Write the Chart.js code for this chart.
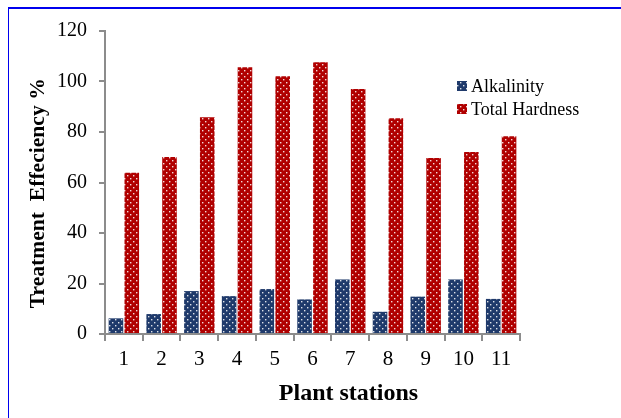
<!DOCTYPE html>
<html>
<head>
<meta charset="utf-8">
<script src="https://cdn.jsdelivr.net/npm/chart.js@4.4.1/dist/chart.umd.min.js"></script>
<style>
  html, body { margin: 0; padding: 0; background: #fff; overflow: hidden; }
  #wrap { position: relative; width: 621px; height: 418px; }
  #frame { position: absolute; left: 8px; top: 7px; width: 700px; height: 500px;
           border-left: 1px solid #0000ee; border-top: 2px solid #0000ee; }
  canvas { position: absolute; left: 0; top: 0; }
</style>
</head>
<body>
<div id="wrap">
  <div id="frame"></div>
  <canvas id="chart" width="621" height="418"></canvas>
</div>
<script>
const stations = ['1', '2', '3', '4', '5', '6', '7', '8', '9', '10', '11'];
const alkalinity = [6.2, 7.9, 17.0, 15.0, 17.8, 13.7, 21.6, 8.8, 14.8, 21.6, 13.9];
const totalHardness = [63.9, 70.1, 85.8, 105.6, 102.1, 107.6, 97.0, 85.4, 69.7, 72.1, 78.3];
const yTicks = [0, 20, 40, 60, 80, 100, 120];

// dotted fill like the office "small confetti" pattern
function dotted(base) {
  const tile = document.createElement('canvas');
  tile.width = 6;
  tile.height = 6;
  const t = tile.getContext('2d');
  t.fillStyle = base;
  t.fillRect(0, 0, 6, 6);
  t.fillStyle = 'rgba(255,255,255,0.85)';
  t.fillRect(1, 1, 1.4, 1.4);
  t.fillRect(4, 4, 1.4, 1.4);
  return t.createPattern(tile, 'repeat');
}

const blueFill = dotted('#1f3a6b');
const redFill = dotted('#b00000');

const serif = "'Liberation Serif', 'Times New Roman', serif";

const legendPlugin = {
  id: 'boxLegend',
  afterDraw(chart) {
    const ctx = chart.ctx;
    const x = chart.chartArea.right - 63;
    let y = 86;
    ctx.save();
    ctx.font = '18px ' + serif;
    ctx.textBaseline = 'middle';
    chart.data.datasets.forEach(ds => {
      ctx.fillStyle = ds.backgroundColor;
      ctx.fillRect(x, y - 5, 10, 10);
      ctx.fillStyle = '#000';
      ctx.fillText(ds.label, x + 14, y + 1);
      y += 23;
    });
    ctx.restore();
  }
};

new Chart(document.getElementById('chart'), {
  type: 'bar',
  data: {
    labels: stations,
    datasets: [
      {
        label: 'Alkalinity',
        data: alkalinity,
        backgroundColor: blueFill,
        categoryPercentage: 0.84,
        barPercentage: 0.92
      },
      {
        label: 'Total Hardness',
        data: totalHardness,
        backgroundColor: redFill,
        categoryPercentage: 0.84,
        barPercentage: 0.92
      }
    ]
  },
  options: {
    responsive: false,
    animation: false,
    layout: { padding: { left: 0, top: 31, right: 101, bottom: 0 } },
    plugins: {
      legend: { display: false },
      tooltip: { enabled: false }
    },
    scales: {
      x: {
        grid: { display: true, drawOnChartArea: false, drawTicks: true, tickLength: 7, color: '#8c8c8c', lineWidth: 2 },
        border: { color: '#8c8c8c', width: 2 },
        ticks: { color: '#000', font: { family: serif, size: 21 }, padding: 6, maxRotation: 0 },
        title: {
          display: true,
          text: '            Plant stations',
          color: '#000',
          font: { family: serif, size: 24, weight: 'bold' },
          padding: { top: 0, bottom: 10 }
        },
        afterFit(scale) { scale.height = 84; }
      },
      y: {
        min: 0,
        max: 120,
        afterBuildTicks(scale) { scale.ticks = yTicks.map(v => ({ value: v })); },
        grid: { display: true, drawOnChartArea: false, drawTicks: true, tickLength: 6, color: '#8c8c8c', lineWidth: 2 },
        border: { color: '#8c8c8c', width: 2 },
        ticks: { color: '#000', font: { family: serif, size: 20 }, padding: 12 },
        title: {
          display: true,
          text: 'Treatment  Effeciency %    ',
          color: '#000',
          font: { family: serif, size: 21.6, weight: 'bold' },
          padding: { top: 25, bottom: 0 }
        },
        afterFit(scale) { scale.width = 105; }
      }
    }
  },
  plugins: [legendPlugin]
});
</script>
</body>
</html>
